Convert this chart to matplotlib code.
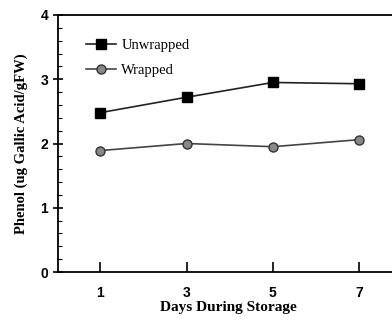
import matplotlib.pyplot as plt
from matplotlib.ticker import MultipleLocator

days = [1, 3, 5, 7]
unwrapped = [2.48, 2.72, 2.95, 2.93]
wrapped = [1.89, 2.0, 1.95, 2.06]

serif = 'Liberation Serif'
sans = 'Liberation Sans'

fig = plt.figure(figsize=(3.92, 3.21), dpi=100)
ax = fig.add_axes([58 / 392, 49 / 321, 340 / 392, 257 / 321])

ax.plot(days, unwrapped, '-s', color='#222222', lw=1.2, ms=7,
        mfc='black', mec='black', label='Unwrapped')
ax.plot(days, wrapped, '-o', color='#444444', lw=1.2, ms=6.5,
        mfc='#888888', mec='#333333', label='Wrapped')

ax.set_xlim(0.02, 7.9)
ax.set_ylim(0, 4)
ax.set_xticks(days)
ax.yaxis.set_major_locator(MultipleLocator(1))
ax.yaxis.set_minor_locator(MultipleLocator(0.2))
ax.tick_params(axis='y', which='major', direction='inout', length=7, width=1.2,
               labelsize=10)
ax.tick_params(axis='x', which='major', direction='in', length=7, width=1.2,
               labelsize=10, pad=10)
ax.tick_params(axis='y', which='minor', direction='in', length=3, width=0.8)
for lab in ax.get_xticklabels() + ax.get_yticklabels():
    lab.set_fontfamily(sans)
    lab.set_fontweight('bold')

for s in ['left', 'bottom', 'top']:
    ax.spines[s].set_linewidth(1.3)
ax.spines['right'].set_visible(False)

ax.set_xlabel('Days During Storage', fontfamily=serif, fontweight='bold',
              fontsize=11, labelpad=1)
ax.set_ylabel('Phenol (ug Gallic Acid/gFW)', fontfamily=serif, fontweight='bold',
              fontsize=10.5, labelpad=9)

leg = ax.legend(loc='upper left', bbox_to_anchor=(0.045, 0.96), frameon=False,
                prop={'family': serif, 'size': 10.5}, handlelength=2.0,
                labelspacing=0.85, handletextpad=0.4)

fig.savefig('out.png', dpi=100)
